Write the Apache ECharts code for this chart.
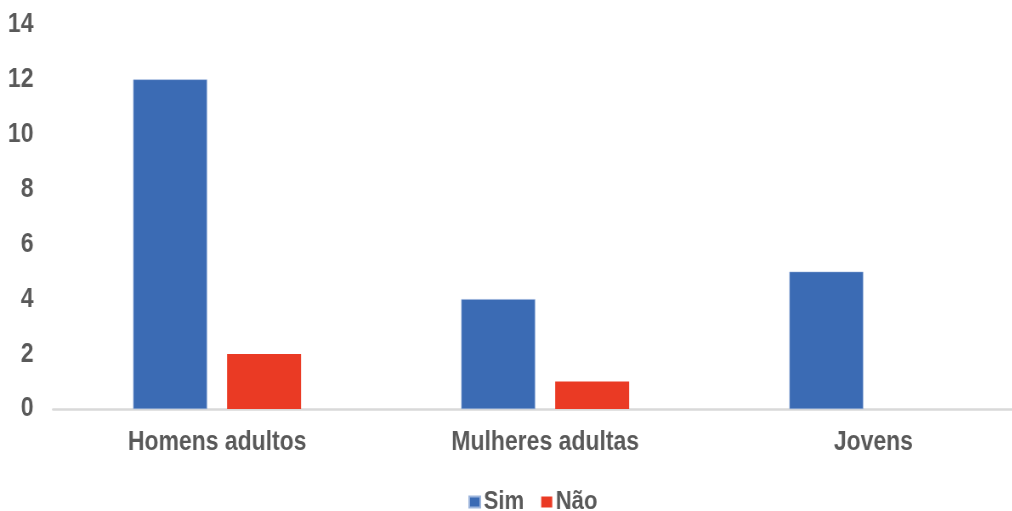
<!DOCTYPE html>
<html><head><meta charset="utf-8">
<script src="https://cdn.jsdelivr.net/npm/echarts@6/dist/echarts.min.js"></script>
<style>
html,body{margin:0;padding:0;background:#fff;overflow:hidden;width:1012px;height:511px}
#c{width:1240px;height:511px;transform:scaleX(0.85);transform-origin:0 0}
</style>
</head><body><div id="c"></div>
<script>
const categories = ['Homens adultos', 'Mulheres adultas', 'Jovens'];
const sim = [12, 4, 5];
const nao = [2, 1, 0];
const yTicks = [0, 2, 4, 6, 8, 10, 12, 14];

const font = '"Liberation Sans", Arial, sans-serif';
const chart = echarts.init(document.getElementById('c'));
chart.setOption({
  animation: false,
  textStyle: { fontFamily: font },
  grid: { left: 62.4, right: 19.6, top: 24.5, height: 384.5, containLabel: false },
  legend: {
    top: 489, left: 551, padding: 0, itemWidth: 13, itemGap: 20, itemHeight: 11,
    icon: 'rect',
    textStyle: { fontSize: 26, color: '#595959', fontWeight: 'bold', fontFamily: font, padding: [0, 0, 0, -1] },
    data: ['Sim', 'Não']
  },
  xAxis: {
    type: 'category', data: categories,
    axisLine: { lineStyle: { color: '#d9d9d9', width: 2.5 } },
    axisTick: { show: false },
    axisLabel: { fontSize: 27, color: '#595959', fontWeight: 'bold', margin: 20, fontFamily: font }
  },
  yAxis: {
    type: 'value', min: yTicks[0], max: yTicks[yTicks.length - 1], interval: 2,
    splitLine: { show: false },
    axisLine: { show: false }, axisTick: { show: false },
    axisLabel: { fontSize: 27, color: '#595959', fontWeight: 'bold', margin: 23, fontFamily: font }
  },
  series: [
    { name: 'Sim', type: 'bar', data: sim, barWidth: 87, barGap: '27%',
      itemStyle: { color: '#3B6BB4', borderColor: '#9db5dc', borderWidth: 0.5 } },
    { name: 'Não', type: 'bar', data: nao, barWidth: 87,
      itemStyle: { color: '#EA3A24' } }
  ]
});
</script></body></html>
